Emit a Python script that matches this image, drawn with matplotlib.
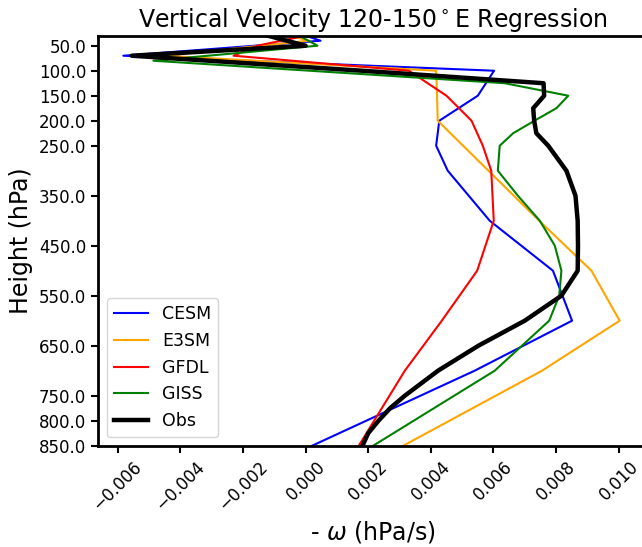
import numpy as np
import matplotlib
matplotlib.use('Agg')
from matplotlib import pyplot as plt

# pressure levels (hPa) and -omega (hPa/s)
obs_p = [30, 50, 70, 100, 125, 150, 175, 200, 225, 250, 300, 350, 400, 450,
         500, 550, 600, 650, 700, 750, 775, 800, 825, 850]
obs = [-0.0012, 0.0000, -0.00555, 0.0018, 0.0076, 0.00762, 0.00727, 0.0073,
       0.00737, 0.00775, 0.00833, 0.00862, 0.00869, 0.0087, 0.00869, 0.00817,
       0.0070, 0.00552, 0.00423, 0.00317, 0.0027, 0.00233, 0.0020, 0.00182]

cesm_p = [30, 40, 70, 100, 150, 200, 250, 300, 400, 500, 600, 700, 850]
cesm = [0.0, 0.00048, -0.00582, 0.00602, 0.0055, 0.00427, 0.00417, 0.00454,
        0.00588, 0.0079, 0.00851, 0.0054, 0.00021]

e3sm_p = [30, 40, 70, 100, 150, 200, 250, 300, 400, 500, 600, 700, 850]
e3sm = [-0.0005, 0.0001, -0.0045, 0.00417, 0.0042, 0.00422, 0.00503, 0.00584,
        0.00746, 0.00913, 0.01003, 0.00755, 0.00312]

gfdl_p = [30, 50, 70, 100, 150, 200, 250, 300, 400, 500, 600, 700, 850]
gfdl = [0.0, -0.00155, -0.0023, 0.0033, 0.0045, 0.0053, 0.00566, 0.00593,
        0.00601, 0.00548, 0.00435, 0.00317, 0.0017]

giss_p = [30, 50, 80, 125, 150, 175, 200, 225, 250, 300, 350, 400, 450, 500,
          550, 600, 700, 850]
giss = [-0.0002, 0.00038, -0.00486, 0.00636, 0.00839, 0.00801, 0.00731,
        0.00663, 0.0062, 0.00614, 0.00678, 0.00748, 0.00796, 0.00817, 0.0081,
        0.00778, 0.00604, 0.00216]

ytick_vals = [50, 100, 150, 200, 250, 350, 450, 550, 650, 750, 800, 850]
xtick_vals = [-0.006, -0.004, -0.002, 0.000, 0.002, 0.004, 0.006, 0.008, 0.010]

fig = plt.figure(figsize=(6.42, 5.47), dpi=100)
ax = fig.add_axes([0.1526, 0.1852, 0.855, 0.7495])

ax.plot(cesm, cesm_p, color='blue', lw=1.5, label='CESM')
ax.plot(e3sm, e3sm_p, color='orange', lw=1.5, label='E3SM')
ax.plot(gfdl, gfdl_p, color='red', lw=1.5, label='GFDL')
ax.plot(giss, giss_p, color='green', lw=1.5, label='GISS')
ax.plot(obs, obs_p, color='black', lw=3.2, label='Obs')

ax.set_ylim(850, 30)
ax.set_xlim(-0.00663, 0.0109)
ax.set_yticks(ytick_vals)
ax.set_yticklabels(['%.1f' % v for v in ytick_vals], fontsize=12)
ax.set_xticks(xtick_vals)
xlabs = [('%.3f' % v).replace('-', '\u2212') for v in xtick_vals]
xlabs = ['0.000' if l == '\u22120.000' else l for l in xlabs]
ax.set_xticklabels(xlabs, fontsize=12, rotation=45)
ax.tick_params(width=1.5, length=5)
for s in ax.spines.values():
    s.set_linewidth(2)

ax.set_title('Vertical Velocity 120-150$^\\circ$E Regression', fontsize=17)
ax.set_ylabel('Height (hPa)', fontsize=17)
ax.set_xlabel('- $\\omega$ (hPa/s)', fontsize=17)
ax.legend(loc='lower left', fontsize=12.5)

fig.savefig('out.png', dpi=100)
